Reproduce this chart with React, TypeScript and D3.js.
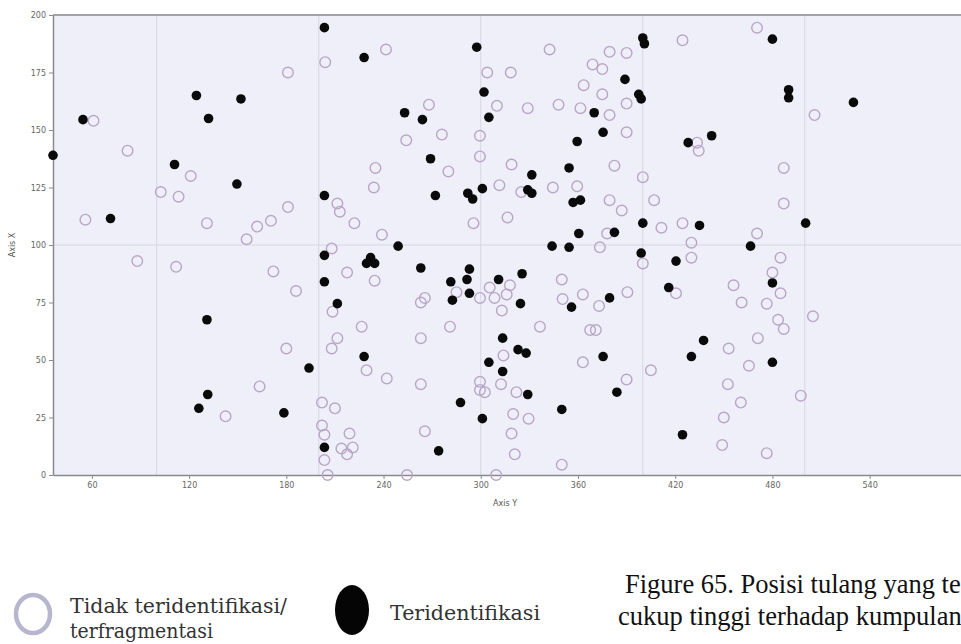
import React, { useRef, useEffect } from "react";
import * as d3 from "d3";

// tick values
const xTicks = [60, 120, 180, 240, 300, 360, 420, 480, 540];
const yTicks = [0, 25, 50, 75, 100, 125, 150, 175, 200];
const xGrid = [100, 200, 300, 400, 500];
const yGrid = [100];

// [Axis Y, Axis X] - open circles (tidak teridentifikasi / terfragmentasi)
const unidentified: [number, number][] = [
  [61, 154], [82, 141], [121, 130], [102.5, 123], [113.5, 121], [181, 175], [181, 116.5],
  [170.5, 110.5], [162, 108], [155.5, 102.5], [131, 109.5], [56, 111], [88, 93], [112, 90.5],
  [172, 88.5], [186, 80], [180, 55], [163.5, 38.5], [142.5, 25.5], [204, 179.5], [241.5, 185],
  [304, 175], [318.5, 175], [342.5, 185], [310, 160.5], [329, 159.5], [348, 161], [361.5, 159.5],
  [379.5, 156.5], [363.5, 169.5], [369, 178.5], [375, 176.5], [379.5, 184], [375, 165.5],
  [268, 161], [254, 145.5], [276, 148], [299.5, 147.5], [299.5, 138.5], [280, 132], [235, 133.5],
  [234, 125], [211.5, 118], [213, 114.5], [222, 109.5], [239, 104.5], [208, 98.5], [311.5, 126],
  [319, 135], [325, 123], [344.5, 125], [359.5, 125.5], [379.5, 119.5], [382.5, 134.5],
  [295.5, 109.5], [316.5, 112], [378, 105], [390, 183.5], [390, 161.5], [390, 149], [424.5, 189],
  [470.5, 194.5], [506, 156.5], [433.5, 144.5], [434.5, 141], [400, 129.5], [487, 133.5],
  [407, 119.5], [387, 115], [487, 118], [411.5, 107.5], [424.5, 109.5], [470.5, 105], [430, 101],
  [430, 94.5], [400, 92], [485, 94.5], [480, 88], [485, 79], [456, 82.5], [461, 75], [476.5, 74.5],
  [483.5, 67.5], [487, 63.5], [505, 69], [420.5, 79], [390.5, 79.5], [471, 59.5], [453, 55],
  [465.5, 47.5], [405, 45.5], [390, 41.5], [452.5, 39.5], [460.5, 31.5], [450, 25], [497.5, 34.5],
  [449, 13], [476.5, 9.5], [217.5, 88], [234.5, 84.5], [208.5, 71], [226.5, 64.5], [211.5, 59.5],
  [208, 55], [229.5, 45.5], [242, 42], [265.5, 77], [263, 75], [263, 59.5], [263, 39.5],
  [265.5, 19], [202, 31.5], [210, 29], [202, 21.5], [203.5, 17.5], [219, 18], [214, 11.5],
  [221, 12], [217.5, 9], [203.5, 6.5], [205.5, 0], [254.5, 0], [309.5, 0], [350, 4.5], [321, 9],
  [285, 79.5], [281, 64.5], [299.5, 77], [305.5, 81.5], [308.5, 77], [316, 78.5], [318, 82.5],
  [313, 71.5], [336.5, 64.5], [314, 52], [312.5, 39.5], [299.5, 40.5], [299.5, 37], [302.5, 36],
  [322, 36], [320, 26.5], [329.5, 24.5], [319, 18], [373.5, 99], [350, 85], [350.5, 76.5],
  [363, 78.5], [373, 73.5], [367.5, 63], [371, 63], [363, 49],
];

// [Axis Y, Axis X] - filled circles (teridentifikasi)
const identified: [number, number][] = [
  [36, 139], [54.5, 154.5], [71.5, 111.5], [111, 135], [124.5, 165], [132, 155], [152, 163.5],
  [149.5, 126.5], [131, 67.5], [194, 46.5], [131.5, 35], [126, 29], [178.5, 27], [203.5, 194.5],
  [228, 181.5], [297.5, 186], [302, 166.5], [305, 155.5], [253, 157.5], [264, 154.5], [269, 137.5],
  [203.5, 121.5], [272, 121.5], [292, 122.5], [295, 120], [301, 124.5], [331.5, 130.5], [329, 124],
  [331.5, 122.5], [354.5, 133.5], [357, 118.5], [361.5, 119.5], [370, 157.5], [375.5, 149],
  [359.5, 145], [360.5, 105], [382.5, 105.5], [344, 99.5], [354.5, 99], [400, 190], [401, 187.5],
  [389, 172], [397.5, 165.5], [399, 163.5], [480, 189.5], [490, 167.5], [490, 164], [530, 162],
  [428, 144.5], [442.5, 147.5], [400, 109.5], [435, 108.5], [500.5, 109.5], [466.5, 99.5],
  [399, 96.5], [420.5, 93], [480, 83.5], [416, 81.5], [379.5, 77], [375.5, 51.5], [437.5, 58.5],
  [430, 51.5], [480, 49], [384, 36], [424.5, 17.5], [203.5, 95.5], [203.5, 84], [232, 94.5],
  [229.5, 92], [234.5, 92], [211.5, 74.5], [228, 51.5], [263, 90], [274, 10.5], [203.5, 12],
  [281.5, 84], [282.5, 76], [291.5, 85], [293, 89.5], [293, 79], [311, 85], [325.5, 87.5],
  [324.5, 74.5], [313.5, 59.5], [323, 54.5], [328, 53], [305, 49], [313.5, 45], [329, 35],
  [287.5, 31.5], [301, 24.5], [350, 28.5], [356, 73], [249, 99.5],
];

const W = 961;
const H = 644;
const plot = { left: 53, right: 962, top: 15, bottom: 475 };

export default function App() {
  const ref = useRef<SVGSVGElement>(null);

  useEffect(() => {
    const svg = d3.select(ref.current);
    svg.selectAll("*").remove();

    const x = d3.scaleLinear().domain([36, 597]).range([plot.left, plot.right]);
    const y = d3.scaleLinear().domain([0, 200]).range([plot.bottom, plot.top]);

    // plot background
    svg.append("rect")
      .attr("x", plot.left)
      .attr("y", plot.top)
      .attr("width", plot.right - plot.left)
      .attr("height", plot.bottom - plot.top)
      .attr("fill", "#efeff9");

    // grid
    svg.append("g")
      .selectAll("line")
      .data(xGrid)
      .enter()
      .append("line")
      .attr("x1", d => x(d))
      .attr("x2", d => x(d))
      .attr("y1", plot.top)
      .attr("y2", plot.bottom)
      .attr("stroke", "#d6d6e4")
      .attr("stroke-width", 1);

    svg.append("g")
      .selectAll("line")
      .data(yGrid)
      .enter()
      .append("line")
      .attr("x1", plot.left)
      .attr("x2", plot.right)
      .attr("y1", d => y(d))
      .attr("y2", d => y(d))
      .attr("stroke", "#d6d6e4")
      .attr("stroke-width", 1);

    // top border
    svg.append("line")
      .attr("x1", plot.left)
      .attr("x2", plot.right)
      .attr("y1", plot.top)
      .attr("y2", plot.top)
      .attr("stroke", "#a4a4a8")
      .attr("stroke-width", 2);

    // axes
    const gx = svg.append("g")
      .attr("transform", `translate(0,${plot.bottom})`)
      .call(d3.axisBottom(x).tickValues(xTicks).tickSize(4).tickSizeOuter(0));
    const gy = svg.append("g")
      .attr("transform", `translate(${plot.left},0)`)
      .call(d3.axisLeft(y).tickValues(yTicks).tickSize(4).tickSizeOuter(0));

    [gx, gy].forEach(g => {
      g.select(".domain").attr("stroke", "#8a8a8e").attr("stroke-width", 1.5);
      g.selectAll(".tick line").attr("stroke", "#8a8a8e");
      g.selectAll(".tick text")
        .attr("fill", "#666")
        .style("font-family", "DejaVu Sans")
        .style("font-size", "8px");
    });

    svg.append("text")
      .attr("x", 505)
      .attr("y", 506)
      .attr("text-anchor", "middle")
      .style("font-family", "DejaVu Sans")
      .style("font-size", "8px")
      .attr("fill", "#555")
      .text("Axis Y");

    svg.append("text")
      .attr("transform", `translate(15,${(plot.top + plot.bottom) / 2}) rotate(-90)`)
      .attr("text-anchor", "middle")
      .style("font-family", "DejaVu Sans")
      .style("font-size", "8px")
      .attr("fill", "#555")
      .text("Axis X");

    // points
    svg.append("g")
      .selectAll("circle")
      .data(unidentified)
      .enter()
      .append("circle")
      .attr("cx", d => x(d[0]))
      .attr("cy", d => y(d[1]))
      .attr("r", 5.3)
      .attr("fill", "none")
      .attr("stroke", "#b9a6c6")
      .attr("stroke-width", 1.4);

    svg.append("g")
      .selectAll("circle")
      .data(identified)
      .enter()
      .append("circle")
      .attr("cx", d => x(d[0]))
      .attr("cy", d => y(d[1]))
      .attr("r", 4.8)
      .attr("fill", "#0a0a0a");

    // legend
    const leg = svg.append("g");
    const legendFont = (t: d3.Selection<SVGTextElement, unknown, null, undefined>) =>
      t.attr("lengthAdjust", "spacingAndGlyphs")
        .style("font-family", "DejaVu Serif")
        .style("font-size", "21px")
        .attr("fill", "#333");

    leg.append("ellipse")
      .attr("cx", 33)
      .attr("cy", 614)
      .attr("rx", 17)
      .attr("ry", 19)
      .attr("fill", "none")
      .attr("stroke", "#b8b5cf")
      .attr("stroke-width", 4.5);
    leg.append("text")
      .attr("x", 70)
      .attr("y", 613)
      .attr("textLength", 217)
      .call(legendFont)
      .text("Tidak teridentifikasi/");
    leg.append("text")
      .attr("x", 70)
      .attr("y", 638)
      .attr("textLength", 143)
      .call(legendFont)
      .text("terfragmentasi");
    leg.append("ellipse")
      .attr("cx", 352)
      .attr("cy", 610)
      .attr("rx", 17)
      .attr("ry", 25)
      .attr("fill", "#050505");
    leg.append("text")
      .attr("x", 390)
      .attr("y", 620)
      .attr("textLength", 150)
      .call(legendFont)
      .text("Teridentifikasi");

    // caption
    svg.append("text")
      .attr("x", 625)
      .attr("y", 593)
      .style("font-family", "Liberation Serif")
      .style("font-size", "26.5px")
      .attr("fill", "#111")
      .text("Figure 65. Posisi tulang yang te");
    svg.append("text")
      .attr("x", 618)
      .attr("y", 625)
      .style("font-family", "Liberation Serif")
      .style("font-size", "26.5px")
      .attr("fill", "#111")
      .text("cukup tinggi terhadap kumpulan");
  }, []);

  return (
    <svg
      ref={ref}
      width={W}
      height={H}
      style={{ position: "absolute", left: 0, top: 0, background: "#fff" }}
    />
  );
}
